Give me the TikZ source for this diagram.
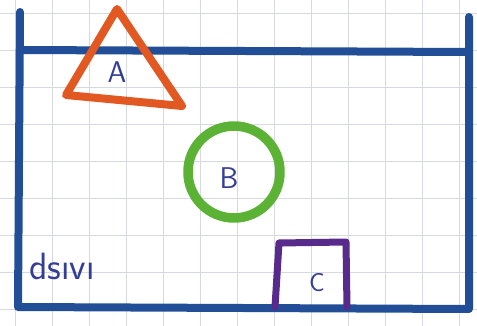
\documentclass[tikz,border=0pt]{standalone}
\usepackage{tikz}
\usetikzlibrary{positioning}
\definecolor{penblue}{RGB}{33,78,150}
\definecolor{penorange}{RGB}{226,88,34}
\definecolor{pengreen}{RGB}{92,178,52}
\definecolor{penpurple}{RGB}{88,42,140}
\definecolor{inkblue}{RGB}{52,62,150}
\definecolor{paper}{RGB}{214,218,222}
\tikzset{
  sheet/.style={x=1pt, y=-1pt, line cap=round, line join=round},
  tank/.style={draw=penblue, line width=8pt},
  tri/.style={draw=penorange, line width=8pt},
  ball/.style={draw=pengreen, line width=9.5pt},
  cup/.style={draw=penpurple, line width=7pt},
  lbl/.style={text=inkblue, font=\sffamily\fontsize{30}{34}\selectfont, inner sep=0pt}
}
\begin{document}
\begin{tikzpicture}[sheet]
\useasboundingbox (0,0) rectangle (477,326);
% squared paper
\foreach \gx in {15,52,...,477} \draw[paper, line width=0.8pt] (\gx,0) -- (\gx,326);
\foreach \gy in {13,50,...,326} \draw[paper, line width=0.8pt] (0,\gy) -- (477,\gy);
% container
\coordinate (tl) at (20,12);
\coordinate (bl) at (18,307);
\coordinate (br) at (469,309);
\coordinate (tr) at (469,17);
\coordinate (ml) at (20,50);
\coordinate (mr) at (469,52);
\draw[tank] (tl) -- (bl) -- (br) -- (tr);
\draw[tank] (ml) -- (mr);
% A
\coordinate (ta) at (117,9);
\coordinate (tb) at (66,95);
\coordinate (tc) at (182,106);
\draw[tri] (ta) -- (tb) -- (tc) -- cycle;
\node[lbl] (A) at (117,72) {A};
% B
\node[ball, circle, minimum size=92pt, inner sep=0pt] (ring) at (234,172) {};
\node[lbl] (B) at (229,178) {B};
% C
\coordinate (c1) at (275,307);
\coordinate (c2) at (279,243);
\coordinate (c3) at (346,242);
\coordinate (c4) at (347,307);
\draw[cup] (c1) -- (c2) -- (c3) -- (c4);
\node[lbl, font=\sffamily\fontsize{26}{30}\selectfont] (C) at (317,283) {C};
% text
\node[lbl, font=\sffamily\fontsize{38}{42}\selectfont, anchor=west] (liq) at (29,266) {ds\i v\i};
\end{tikzpicture}
\end{document}
